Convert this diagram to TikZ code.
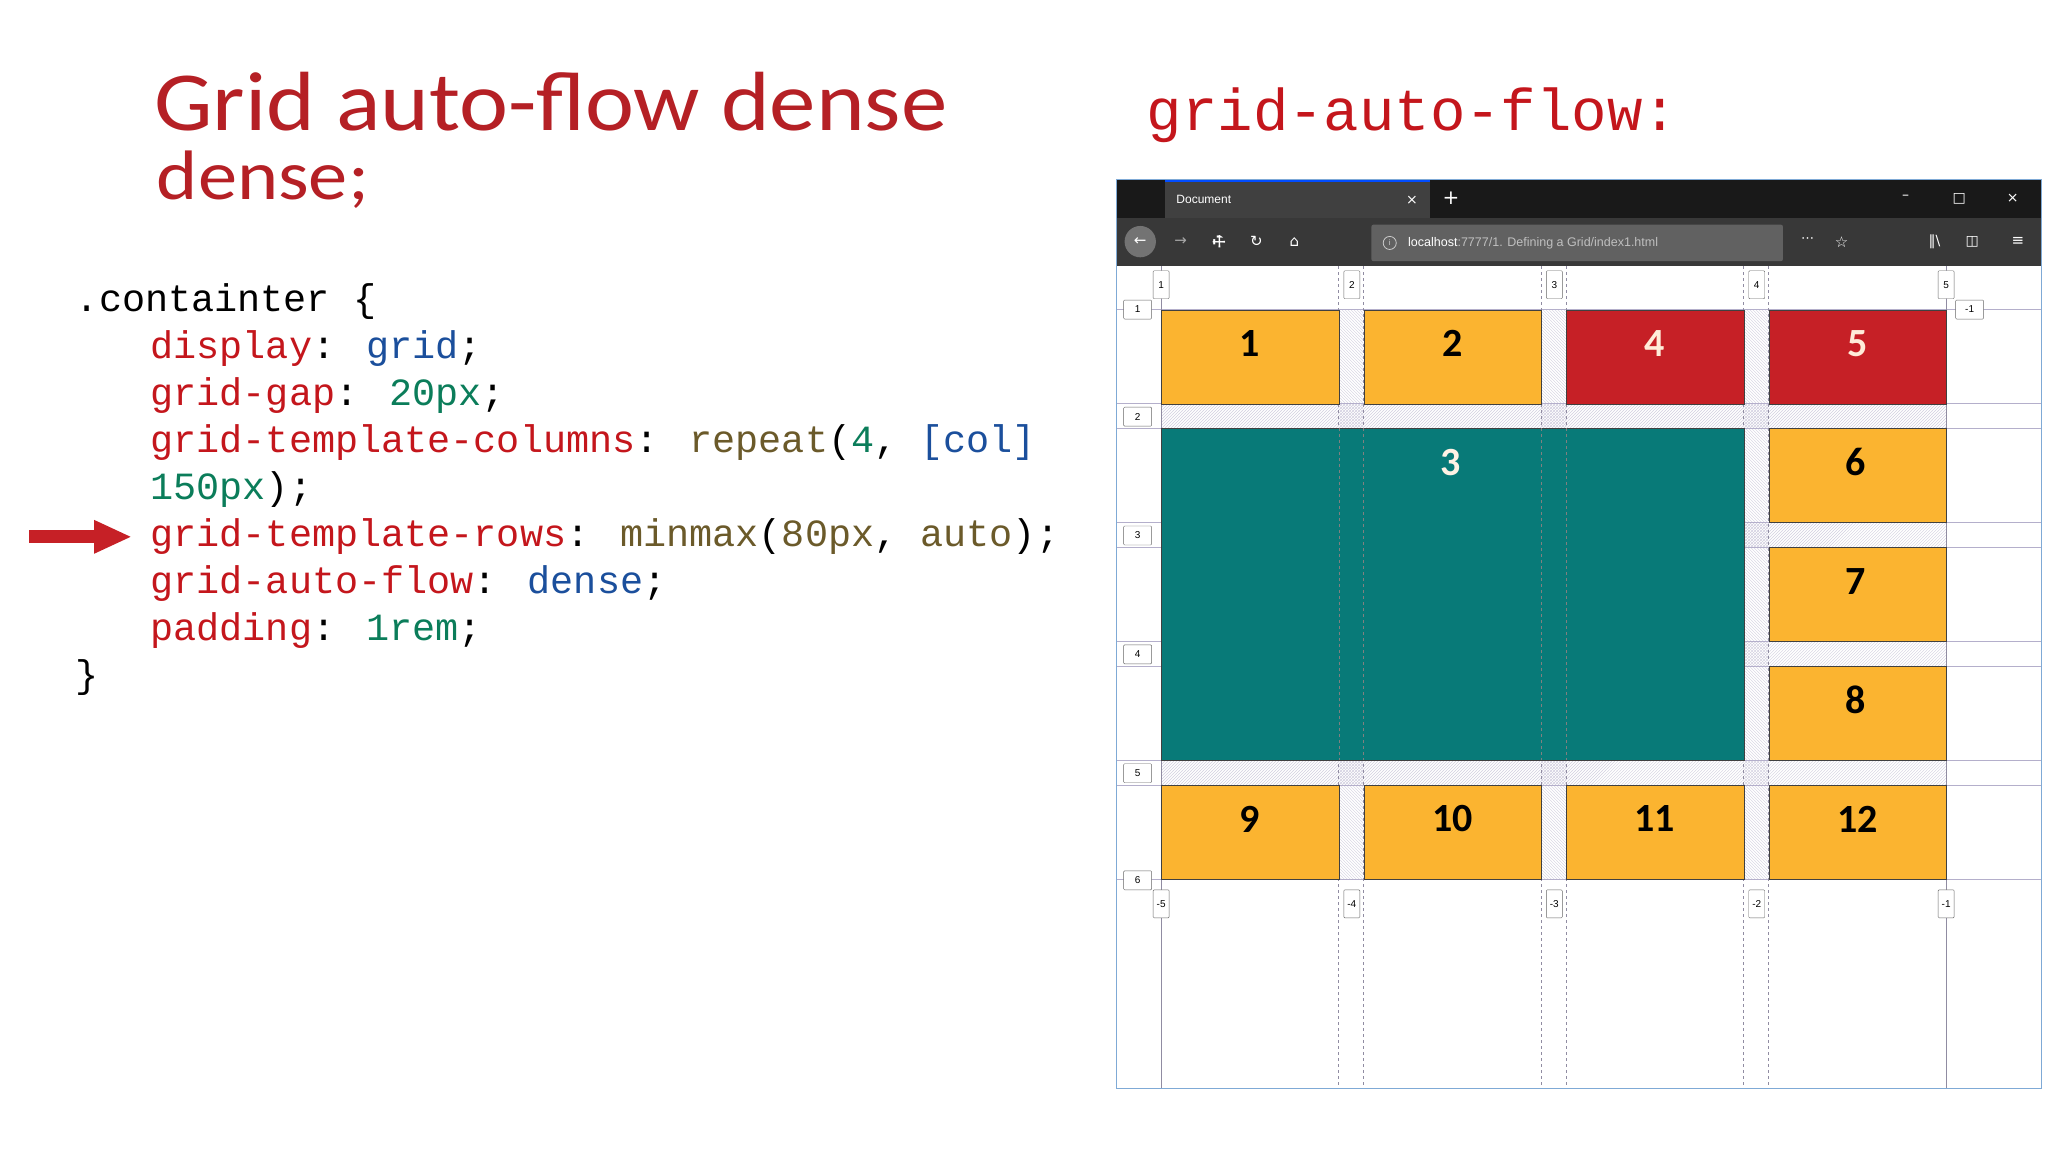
\documentclass[tikz,border=0pt]{standalone}
\usepackage{fontspec}
\setmainfont{Carlito}
\newfontfamily\monof{Liberation Mono}
\newfontfamily\dvs{DejaVu Sans}
\newfontfamily\uif{Liberation Sans}
\usetikzlibrary{patterns,shapes.symbols}
\definecolor{ttl}{HTML}{B52025}
\definecolor{prop}{HTML}{C4161C}
\definecolor{vblue}{HTML}{1B4F9C}
\definecolor{vgreen}{HTML}{0B7D5A}
\definecolor{vbrown}{HTML}{6B5A2A}
\definecolor{orng}{HTML}{FBB430}
\definecolor{rd}{HTML}{C62026}
\definecolor{teal}{HTML}{087A78}
\definecolor{gline}{HTML}{B4AFCB}
\definecolor{bord}{HTML}{7FAAD6}
\tikzset{
 cell/.style={draw=black!75,line width=0.8pt},
 num/.style={font=\fontsize{40}{40}\selectfont\bfseries},
 code/.style={anchor=west,font=\monof\fontsize{38.5}{38.5}\selectfont,inner sep=0pt},
 lbl/.style={draw=black!60,fill=white,font=\uif\fontsize{10}{10}\selectfont,inner sep=1.5pt,rounded corners=1pt},
}
\begin{document}
\begin{tikzpicture}[x=1.3061pt,y=-1.3061pt]
\useasboundingbox (0,0) rectangle (1568,882);
\fill[white] (0,0) rectangle (1568,882);
% titles
\node[anchor=base west,inner sep=0pt,text=ttl,font=\fontsize{84}{84}\selectfont] (t1) at (118,100) {\scalebox{1.105}[1]{Grid auto-flow dense}};
\node[anchor=base west,inner sep=0pt,text=ttl,font=\fontsize{70}{70}\selectfont] (t2) at (120,153) {\scalebox{1.12}[1]{dense;}};
\node[anchor=base west,inner sep=0pt,text=prop,font=\monof\fontsize{59}{59}\selectfont] (t3) at (878,100) {grid-auto-flow:};
% code
\node[code] (c0) at (58,231) {.containter \{};
\node[code] (c1) at (115,267) {\textcolor{prop}{display}: \textcolor{vblue}{grid};};
\node[code] (c2) at (115,303) {\textcolor{prop}{grid-gap}: \textcolor{vgreen}{20px};};
\node[code] (c3) at (115,339) {\textcolor{prop}{grid-template-columns}: \textcolor{vbrown}{repeat}(\textcolor{vgreen}{4}, \textcolor{vblue}{[col]}};
\node[code] (c4) at (115,375) {\textcolor{vgreen}{150px});};
\node[code] (c5) at (115,411) {\textcolor{prop}{grid-template-rows}: \textcolor{vbrown}{minmax}(\textcolor{vbrown}{80px}, \textcolor{vbrown}{auto});};
\node[code] (c6) at (115,447) {\textcolor{prop}{grid-auto-flow}: \textcolor{vblue}{dense};};
\node[code] (c7) at (115,483) {\textcolor{prop}{padding}: \textcolor{vgreen}{1rem};};
\node[code] (c8) at (58,519) {\}};
% arrow
\coordinate (a0) at (22,411);
\fill[rd] (22,406) rectangle (75,416);
\fill[rd] (72,398) -- (100,411) -- (72,424) -- cycle;
% browser
\fill[white] (855,137) rectangle (1563,833);
\fill[black!90] (855,137) rectangle (1563,167);
\fill[black!75] (892,139) rectangle (1095,167);
\fill[blue!70!cyan] (892,137) rectangle (1095,139.5);
\node[anchor=west,text=white,font=\uif\fontsize{12}{12}\selectfont] (tab) at (898,153) {Document};
\node[text=white,font=\dvs\fontsize{14}{14}\selectfont] (tx) at (1081,153) {×};
\node[text=white,font=\dvs\fontsize{20}{20}\selectfont] (tp) at (1111,152) {+};
\node[text=white,font=\dvs\fontsize{14}{14}\selectfont] (w1) at (1459,151) {–};
\node[text=white,font=\dvs\fontsize{14}{14}\selectfont] (w2) at (1500,152) {□};
\node[text=white,font=\dvs\fontsize{14}{14}\selectfont] (w3) at (1541,152) {×};
\fill[black!78] (855,167) rectangle (1563,204);
\fill[black!55] (873,185) circle (12);
\node[text=white,font=\dvs\fontsize{15}{15}\selectfont] (bk) at (873,185) {←};
\node[text=black!35,font=\dvs\fontsize{15}{15}\selectfont] (fw) at (904,185) {→};
\node[text=white,font=\dvs\fontsize{15}{15}\selectfont] (wr) at (933,185) {\rotatebox{45}{⚒}};
\node[text=white,font=\dvs\fontsize{15}{15}\selectfont] (rl) at (962,185) {↻};
\node[text=white,font=\dvs\fontsize{15}{15}\selectfont] (hm) at (991,185) {⌂};
\fill[black!62,rounded corners=2pt] (1050,172) rectangle (1365,200);
\draw[black!20,line width=0.8pt] (1064,186) circle (5);
\node[text=black!20,font=\uif\fontsize{8}{8}\selectfont,inner sep=0pt] (info) at (1064,186) {i};
\node[anchor=west,font=\uif\fontsize{12.5}{12.5}\selectfont,inner sep=0pt] (url) at (1078,186) {\textcolor{white}{localhost}\textcolor{black!25}{:7777/1. Defining a Grid/index1.html}};
\node[text=white,font=\dvs\fontsize{13}{13}\selectfont] (dots) at (1384,184) {⋯};
\node[text=white,font=\dvs\fontsize{15}{15}\selectfont] (st) at (1410,185) {☆};
\node[text=white,font=\dvs\fontsize{14}{14}\selectfont] (lib) at (1481,185) {‖\textbackslash};
\node[text=white,font=\dvs\fontsize{14}{14}\selectfont] (sb) at (1510,185) {◫};
\node[text=white,font=\dvs\fontsize{15}{15}\selectfont] (mn) at (1545,185) {≡};
% gaps hatched
\foreach \y in {309,400,491,582}{\fill[pattern=north east lines,pattern color=gline!60] (889,\y) rectangle (1490,\y+19);}
\foreach \x in {1025,1180,1335}{\fill[pattern=north west lines,pattern color=gline!60] (\x,237) rectangle (\x+19,673);}
% grid lines
\foreach \y in {237,309,328,400,419,491,510,582,601,673}{\draw[gline,line width=0.6pt] (855,\y) -- (1563,\y);}
\foreach \x in {1025,1044,1180,1199,1335,1354}{\draw[gline!80!black,dashed,line width=0.6pt] (\x,204) -- (\x,833);}
\foreach \x in {889,1490}{\draw[gline!80!black,line width=0.8pt] (\x,204) -- (\x,833);}
% cells
\node[cell,fill=orng,minimum width=136*1.3061pt,minimum height=72*1.3061pt,anchor=north west] (n1) at (889,237) {};
\node[num] at (957,263) {1};
\node[cell,fill=orng,minimum width=136*1.3061pt,minimum height=72*1.3061pt,anchor=north west] (n2) at (1044,237) {};
\node[num] at (1112,263) {2};
\node[cell,fill=rd,minimum width=136*1.3061pt,minimum height=72*1.3061pt,anchor=north west] (n4) at (1199,237) {};
\node[num,text=orange!15] at (1267,263) {4};
\node[cell,fill=rd,minimum width=136*1.3061pt,minimum height=72*1.3061pt,anchor=north west] (n5) at (1354,237) {};
\node[num,text=orange!15] at (1422,263) {5};
\node[cell,fill=teal,minimum width=446*1.3061pt,minimum height=254*1.3061pt,anchor=north west] (n3) at (889,328) {};
\node[num,text=orange!10] at (1111,354) {3};
\foreach \x in {1025,1044,1180,1199}{\draw[black!50,dashed,line width=0.4pt] (\x,328) -- (\x,582);}
\node[cell,fill=orng,minimum width=136*1.3061pt,minimum height=72*1.3061pt,anchor=north west] (n6) at (1354,328) {};
\node[num] at (1421,354) {6};
\node[cell,fill=orng,minimum width=136*1.3061pt,minimum height=72*1.3061pt,anchor=north west] (n7) at (1354,419) {};
\node[num] at (1421,445) {7};
\node[cell,fill=orng,minimum width=136*1.3061pt,minimum height=72*1.3061pt,anchor=north west] (n8) at (1354,510) {};
\node[num] at (1421,536) {8};
\node[cell,fill=orng,minimum width=136*1.3061pt,minimum height=72*1.3061pt,anchor=north west] (n9) at (889,601) {};
\node[num] at (957,627) {9};
\node[cell,fill=orng,minimum width=136*1.3061pt,minimum height=72*1.3061pt,anchor=north west] (n10) at (1044,601) {};
\node[num] at (1112,627) {10};
\node[cell,fill=orng,minimum width=136*1.3061pt,minimum height=72*1.3061pt,anchor=north west] (n11) at (1199,601) {};
\node[num] at (1267,627) {11};
\node[cell,fill=orng,minimum width=136*1.3061pt,minimum height=72*1.3061pt,anchor=north west] (n12) at (1354,601) {};
\node[num] at (1422,627) {12};
% line labels
\foreach \x/\t in {889/1,1035/2,1190/3,1345/4,1490/5}{\node[lbl,minimum width=16pt,minimum height=28pt] at (\x,218) {\t};}
\foreach \x/\t in {889/-5,1035/-4,1190/-3,1345/-2,1490/-1}{\node[lbl,minimum width=16pt,minimum height=28pt] at (\x,692) {\t};}
\foreach \y/\t in {237/1,319/2,410/3,501/4,592/5,674/6}{\node[lbl,minimum width=28pt,minimum height=19pt] at (871,\y) {\t};}
\node[lbl,minimum width=28pt,minimum height=19pt] (rl1) at (1508,237) {-1};
\draw[bord,line width=0.8pt] (855,137) rectangle (1563,833);
\end{tikzpicture}
\end{document}
